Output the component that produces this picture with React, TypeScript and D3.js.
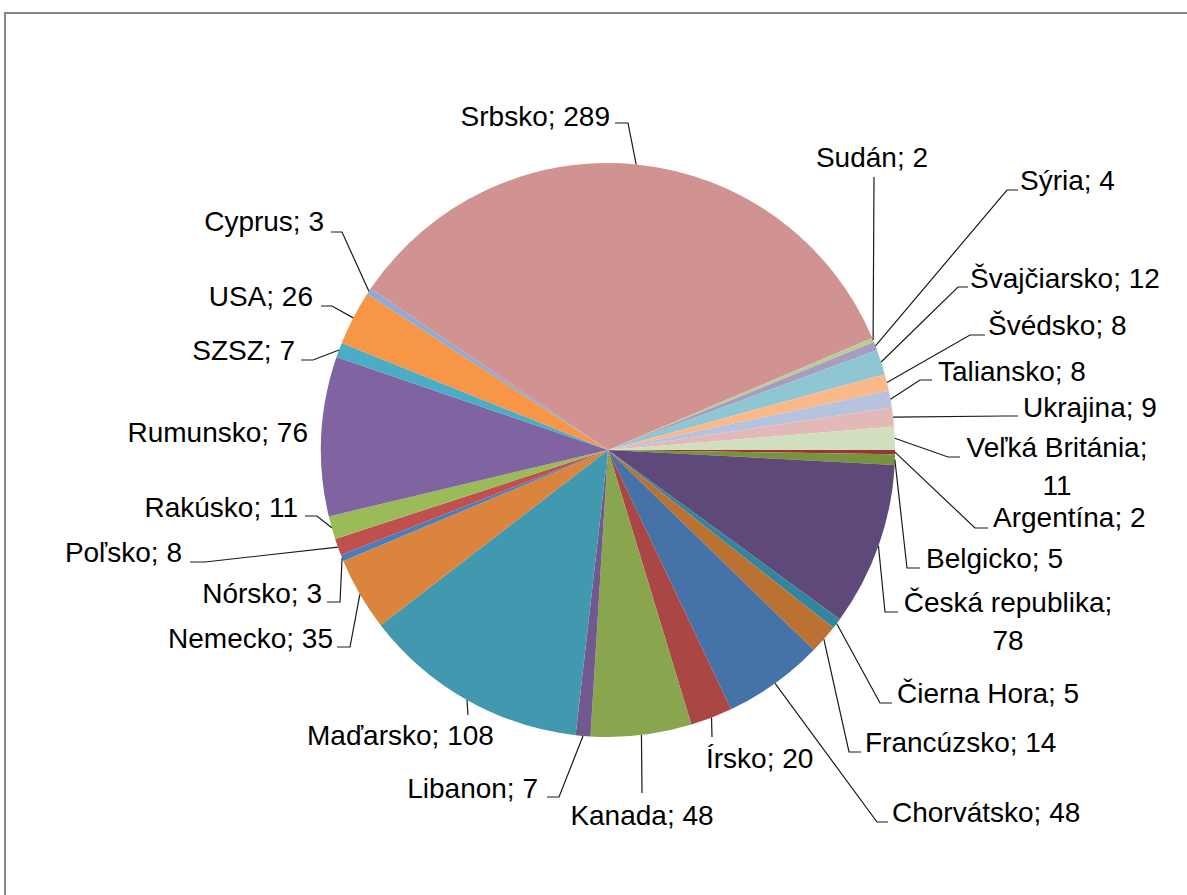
import React from "react";
import * as d3 from "d3";

// slice order as in the source sheet (first slice starts at 3 o'clock)
const countries = [
  "Argentína", "Belgicko", "Česká republika", "Čierna Hora", "Francúzsko",
  "Chorvátsko", "Írsko", "Kanada", "Libanon", "Maďarsko", "Nemecko",
  "Nórsko", "Poľsko", "Rakúsko", "Rumunsko", "SZSZ", "USA", "Cyprus",
  "Srbsko", "Sudán", "Sýria", "Švajčiarsko", "Švédsko", "Taliansko",
  "Ukrajina", "Veľká Británia",
];
const counts = [
  2, 5, 78, 5, 14, 48, 20, 48, 7, 108, 35, 3, 8, 11, 76, 7, 26, 3,
  289, 2, 4, 12, 8, 8, 9, 11,
];
const sliceColors = [
  "#953735", "#77933C", "#5F497A", "#31859C", "#BB7132", "#4572A7",
  "#AA4643", "#89A54E", "#71588F", "#4198AF", "#DB843D", "#4A7EBB",
  "#C0504D", "#9BBB59", "#8064A2", "#4BACC6", "#F79646", "#93A9CF",
  "#D09392", "#B9CD96", "#A99BBD", "#8FC6D4", "#F9B98A", "#B6C3DF",
  "#E2B9B8", "#D2DFBF",
];

type Lbl = {
  x: number; y: number; anchor: "start" | "end" | "middle";
  wrap?: boolean; elbow?: [number, number]; stub?: [number, number];
};

// where Excel put each data label and its leader line
const labelLayout: Record<string, Lbl> = {
  "Argentína": { x: 993, y: 527, anchor: "start", elbow: [975, 528], stub: [988, 528] },
  "Belgicko": { x: 926, y: 568, anchor: "start", elbow: [907, 568], stub: [920, 568] },
  "Česká republika": { x: 1008, y: 612, anchor: "middle", wrap: true, elbow: [885, 612], stub: [898, 612] },
  "Čierna Hora": { x: 897, y: 703, anchor: "start", elbow: [880, 703], stub: [892, 703] },
  "Francúzsko": { x: 865, y: 752, anchor: "start", elbow: [849, 752], stub: [861, 752] },
  "Chorvátsko": { x: 892, y: 822, anchor: "start", elbow: [877, 822], stub: [888, 822] },
  "Írsko": { x: 706, y: 768, anchor: "start", elbow: [712, 737] },
  "Kanada": { x: 642, y: 825, anchor: "middle", elbow: [642, 793] },
  "Libanon": { x: 538, y: 798, anchor: "end", elbow: [559, 797], stub: [547, 797] },
  "Maďarsko": { x: 307, y: 745, anchor: "start", elbow: [468, 715] },
  "Nemecko": { x: 333, y: 648, anchor: "end", elbow: [350, 647], stub: [337, 647] },
  "Nórsko": { x: 322, y: 603, anchor: "end", elbow: [340, 602], stub: [327, 602] },
  "Poľsko": { x: 182, y: 562, anchor: "end", elbow: [205, 562], stub: [190, 562] },
  "Rakúsko": { x: 298, y: 517, anchor: "end", elbow: [317, 516], stub: [305, 516] },
  "Rumunsko": { x: 308, y: 442, anchor: "end" },
  "SZSZ": { x: 295, y: 360, anchor: "end", elbow: [313, 360], stub: [301, 360] },
  "USA": { x: 313, y: 306, anchor: "end", elbow: [332, 306], stub: [321, 306] },
  "Cyprus": { x: 324, y: 231, anchor: "end", elbow: [342, 232], stub: [331, 232] },
  "Srbsko": { x: 610, y: 126, anchor: "end", elbow: [628, 123], stub: [615, 123] },
  "Sudán": { x: 872, y: 167, anchor: "middle", elbow: [874, 177] },
  "Sýria": { x: 1020, y: 190, anchor: "start", elbow: [1007, 190], stub: [1018, 190] },
  "Švajčiarsko": { x: 970, y: 288, anchor: "start", elbow: [958, 287], stub: [968, 287] },
  "Švédsko": { x: 988, y: 335, anchor: "start", elbow: [970, 335], stub: [985, 335] },
  "Taliansko": { x: 938, y: 381, anchor: "start", elbow: [920, 380], stub: [932, 380] },
  "Ukrajina": { x: 1023, y: 417, anchor: "start", elbow: [1005, 416], stub: [1018, 416] },
  "Veľká Británia": { x: 1057, y: 457, anchor: "middle", wrap: true, elbow: [948, 457], stub: [960, 457] },
};

const W = 1187;
const H = 895;
const cx = 608;
const cy = 450;
const R = 287;

export default function App() {
  const rows = countries.map((c, i) => ({ name: c, value: counts[i], color: sliceColors[i] }));

  const pie = d3.pie<typeof rows[number]>()
    .sort(null)
    .value(d => d.value)
    .startAngle(Math.PI / 2)
    .endAngle(Math.PI / 2 + Math.PI * 2);
  const arcs = pie(rows);

  const arc = d3.arc<d3.PieArcDatum<typeof rows[number]>>().innerRadius(0).outerRadius(R);
  const edge = d3.arc<d3.PieArcDatum<typeof rows[number]>>().innerRadius(R).outerRadius(R);

  return (
    <svg width={W} height={H} style={{ position: "absolute", left: 0, top: 0 }}
      fontFamily="'Liberation Sans', Arial, sans-serif" fontSize={28}>
      <rect x={0} y={0} width={W} height={H} fill="#fff" />
      <rect x={5} y={13} width={W + 20} height={H + 20} fill="none" stroke="#868686" strokeWidth={2} />
      <g transform={`translate(${cx},${cy})`}>
        {arcs.map((a, i) => (
          <path key={i} d={arc(a) || ""} fill={a.data.color} />
        ))}
      </g>
      {arcs.map((a, i) => {
        const L = labelLayout[a.data.name];
        if (!L || !L.elbow) return null;
        const [ex, ey] = edge.centroid(a);
        const pts: [number, number][] = [[cx + ex, cy + ey], L.elbow];
        if (L.stub) pts.push(L.stub);
        return (
          <path key={"l" + i} d={d3.line()(pts) || ""} fill="none" stroke="#1a1a1a" strokeWidth={1.2} />
        );
      })}
      {arcs.map((a, i) => {
        const L = labelLayout[a.data.name];
        if (!L) return null;
        if (L.wrap) {
          return (
            <text key={"t" + i} x={L.x} y={L.y} textAnchor={L.anchor} fill="#000">
              <tspan x={L.x}>{a.data.name};</tspan>
              <tspan x={L.x} dy={38}>{a.data.value}</tspan>
            </text>
          );
        }
        return (
          <text key={"t" + i} x={L.x} y={L.y} textAnchor={L.anchor} fill="#000">
            {`${a.data.name}; ${a.data.value}`}
          </text>
        );
      })}
    </svg>
  );
}
